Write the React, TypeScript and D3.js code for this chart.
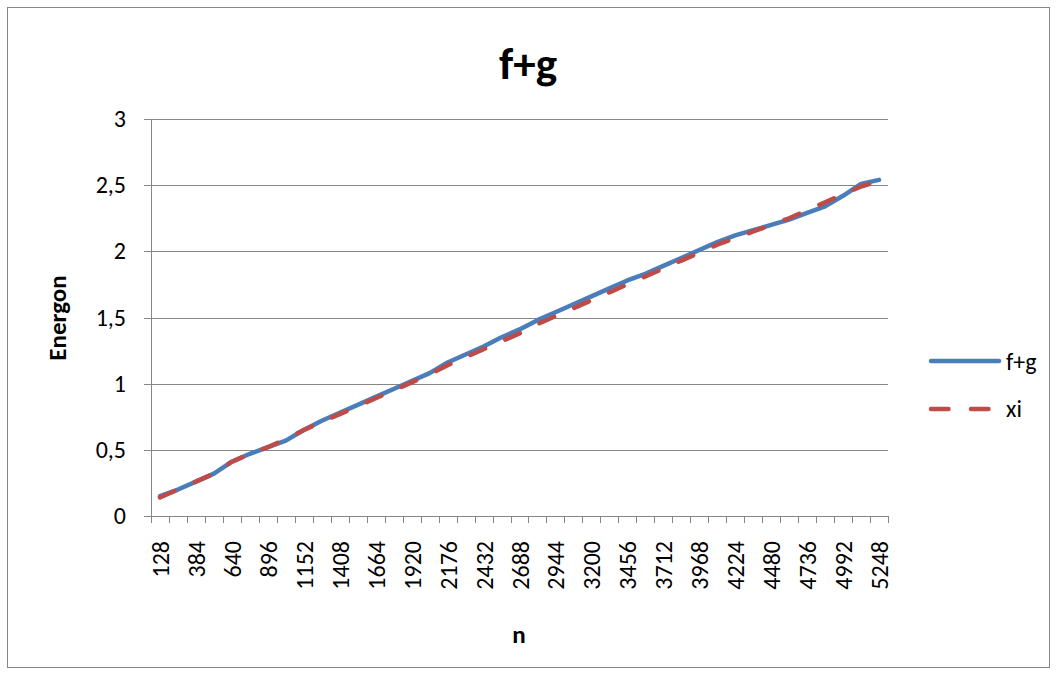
import React from "react";
import * as d3 from "d3";

// n values: 128 .. 5248 in steps of 128
const categories: number[] = [
  128, 256, 384, 512, 640, 768, 896, 1024, 1152, 1280, 1408, 1536, 1664, 1792,
  1920, 2048, 2176, 2304, 2432, 2560, 2688, 2816, 2944, 3072, 3200, 3328, 3456,
  3584, 3712, 3840, 3968, 4096, 4224, 4352, 4480, 4608, 4736, 4864, 4992, 5120,
  5248,
];

const fgValues: number[] = [
  0.15, 0.2, 0.26, 0.32, 0.41, 0.47, 0.52, 0.57, 0.65, 0.72, 0.78, 0.84, 0.9,
  0.96, 1.02, 1.08, 1.16, 1.22, 1.28, 1.35, 1.41, 1.48, 1.54, 1.6, 1.66, 1.72,
  1.78, 1.83, 1.89, 1.95, 2.01, 2.07, 2.12, 2.16, 2.2, 2.24, 2.29, 2.34, 2.42,
  2.51, 2.54,
];

const xiValues: number[] = [
  0.14, 0.2, 0.26, 0.32, 0.41, 0.47, 0.52, 0.58, 0.65, 0.71, 0.77, 0.83, 0.89,
  0.95, 1.01, 1.07, 1.14, 1.2, 1.26, 1.32, 1.38, 1.45, 1.51, 1.57, 1.63, 1.69,
  1.75, 1.81, 1.87, 1.93, 1.99, 2.05, 2.1, 2.15, 2.2, 2.25, 2.31, 2.37, 2.43,
  2.49, 2.53,
];

const yTicks: number[] = [0, 0.5, 1, 1.5, 2, 2.5, 3];

const W = 1058;
const H = 675;
const plot = { left: 151, right: 888, top: 119, bottom: 516 };
const FONT = "Carlito, 'Liberation Sans', 'Noto Sans', Arial, sans-serif";
const GRID = "#868686";
const BLUE = "#4A7EBB";
const RED = "#BE4B48";
const TICK_FS = 24;

export default function App() {
  const x = d3
    .scaleBand<number>()
    .domain(categories)
    .range([plot.left, plot.right])
    .paddingInner(0)
    .paddingOuter(0);
  const y = d3.scaleLinear().domain([0, 3]).range([plot.bottom, plot.top]);
  const cx = (c: number) => (x(c) as number) + x.bandwidth() / 2;

  const line = d3
    .line<number>()
    .x((_, i) => cx(categories[i]))
    .y((v) => y(v));

  const fmt = (v: number) => String(v).replace(".", ",");
  const boundaries = d3.range(categories.length + 1).map(
    (i) => plot.left + i * x.bandwidth()
  );

  return (
    <svg
      width={W}
      height={H}
      style={{ position: "absolute", left: 0, top: 0, background: "#fff" }}
      fontFamily={FONT}
    >
      <rect x={0} y={0} width={W} height={H} fill="#fff" />
      <rect
        x={7.5}
        y={7.5}
        width={1042}
        height={660}
        fill="none"
        stroke={GRID}
        strokeWidth={1}
      />

      {/* title */}
      <text
        x={528}
        y={79}
        textAnchor="middle"
        fontSize={45}
        fontWeight="bold"
        fill="#000"
      >
        f+g
      </text>

      {/* horizontal gridlines and y ticks */}
      {yTicks.map((t) => (
        <g key={t}>
          <line
            x1={plot.left - 7}
            x2={plot.right}
            y1={Math.round(y(t)) + 0.5}
            y2={Math.round(y(t)) + 0.5}
            stroke={GRID}
            strokeWidth={1}
          />
          <text
            x={126}
            y={y(t) + 8}
            textAnchor="end"
            fontSize={TICK_FS}
            fill="#000"
          >
            {fmt(t)}
          </text>
        </g>
      ))}

      {/* y axis */}
      <line
        x1={plot.left + 0.5}
        x2={plot.left + 0.5}
        y1={plot.top}
        y2={plot.bottom}
        stroke={GRID}
        strokeWidth={1}
      />

      {/* x axis tick marks */}
      {boundaries.map((bx, i) => (
        <line
          key={i}
          x1={Math.round(bx) + 0.5}
          x2={Math.round(bx) + 0.5}
          y1={plot.bottom}
          y2={plot.bottom + 7}
          stroke={GRID}
          strokeWidth={1}
        />
      ))}

      {/* x tick labels, every other category */}
      {categories.map((c, i) =>
        i % 2 === 0 ? (
          <text
            key={c}
            transform={`translate(${cx(c) + 9},${plot.bottom + 25}) rotate(-90)`}
            textAnchor="end"
            fontSize={TICK_FS}
            fill="#000"
          >
            {c}
          </text>
        ) : null
      )}

      {/* axis titles */}
      <text
        transform={`translate(66,318) rotate(-90)`}
        textAnchor="middle"
        fontSize={25}
        fontWeight="bold"
        fill="#000"
      >
        Energon
      </text>
      <text
        x={519}
        y={643}
        textAnchor="middle"
        fontSize={25}
        fontWeight="bold"
        fill="#000"
      >
        n
      </text>

      {/* series */}
      <path
        d={line(fgValues) || ""}
        fill="none"
        stroke={BLUE}
        strokeWidth={4.5}
        strokeLinejoin="round"
        strokeLinecap="round"
      />
      <path
        d={line(xiValues) || ""}
        fill="none"
        stroke={RED}
        strokeWidth={4.5}
        strokeLinejoin="round"
        strokeLinecap="round"
        strokeDasharray="16,22"
      />

      {/* legend */}
      <line
        x1={931}
        x2={999}
        y1={361}
        y2={361}
        stroke={BLUE}
        strokeWidth={4.5}
        strokeLinecap="round"
      />
      <text x={1006} y={370} fontSize={TICK_FS} fill="#000">
        f+g
      </text>
      <line
        x1={931}
        x2={999}
        y1={409}
        y2={409}
        stroke={RED}
        strokeWidth={4.5}
        strokeLinecap="round"
        strokeDasharray="17.5,22.5"
      />
      <text x={1006} y={417} fontSize={TICK_FS} fill="#000">
        xi
      </text>
    </svg>
  );
}
